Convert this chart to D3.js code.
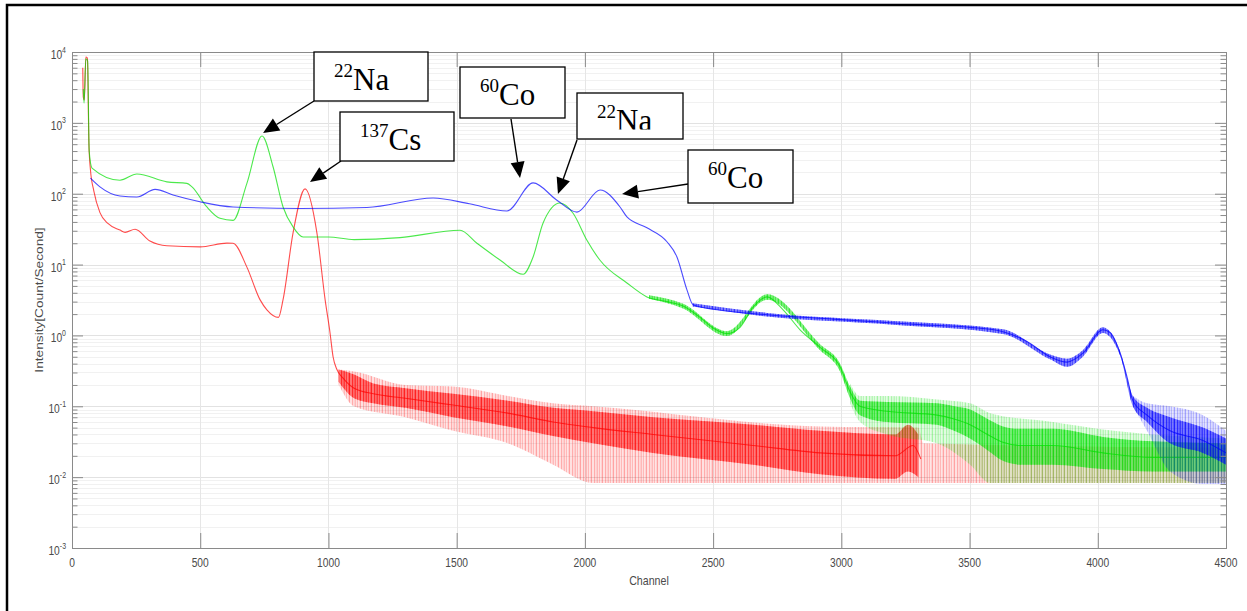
<!DOCTYPE html>
<html>
<head>
<meta charset="utf-8">
<script src="https://cdn.jsdelivr.net/npm/d3@7"></script>
<style>
body { margin: 0; background: #fff; }
svg { display: block; }
</style>
</head>
<body>
<div id="chart"></div>
<script>
(function() {
    'use strict';

    // spectra: [channel, counts per second]
    var redLine = [[42, 6000], [44, 2300], [48, 2100], [54, 8500], [60, 8200], [66, 500], [72, 216],
        [85, 110], [109, 54], [140, 38], [187, 30.7], [207, 28.5], [246, 31.5], [304, 21.5], [370, 18.4],
        [500, 17.8], [604, 20.1], [628, 20], [682, 9.2], [733, 3.2], [760, 2.3], [805, 1.8], [823, 3.2],
        [862, 28], [909, 117], [955, 28], [987, 3.2], [1006, 1.1], [1018, 0.5], [1033, 0.33], [1057, 0.25],
        [1100, 0.18], [1175, 0.15], [1300, 0.13], [1486, 0.104], [1700, 0.08], [1876, 0.06], [2032, 0.05],
        [2266, 0.04], [2656, 0.028], [2917, 0.022], [3210, 0.02], [3280, 0.028], [3310, 0.018]];
    var greenLine = [[44, 3000], [47, 1900], [54, 8000], [61, 7500], [67, 400], [78, 230], [187, 155],
        [253, 190], [370, 147], [448, 140], [468, 125], [526, 65], [577, 45], [628, 42], [682, 140],
        [741, 653], [784, 240], [823, 65], [862, 34], [901, 24.5], [1000, 24.5], [1100, 22.5], [1279, 24],
        [1513, 30.5], [1579, 20], [1669, 11.6], [1759, 7.3], [1798, 12.8], [1837, 38.7], [1903, 74],
        [1954, 53], [2008, 22], [2059, 11.5], [2164, 5.5], [2242, 3.5], [2320, 3.0], [2383, 2.6],
        [2449, 1.8], [2500, 1.27], [2554, 1.06], [2605, 1.3], [2656, 2.5], [2710, 3.5], [2773, 2.3],
        [2839, 1.2], [2917, 0.68], [2995, 0.36], [3034, 0.16], [3073, 0.1], [3178, 0.085], [3373, 0.075],
        [3440, 0.066], [3502, 0.055], [3570, 0.04], [3630, 0.031], [3700, 0.028], [3825, 0.028],
        [4020, 0.022], [4215, 0.019], [4500, 0.019]];
    var blueLine = [[72, 166], [109, 125], [187, 93], [253, 90], [324, 115], [394, 96], [499, 77],
        [628, 65], [889, 62], [1150, 64], [1408, 87], [1550, 72], [1696, 57], [1798, 142], [1891, 81],
        [1969, 55], [2059, 113], [2137, 65], [2164, 47], [2242, 33], [2320, 21], [2359, 12.8], [2398, 4.4],
        [2422, 2.7], [2515, 2.3], [2710, 1.96], [2969, 1.7], [3203, 1.5], [3307, 1.42], [3502, 1.3],
        [3630, 1.13], [3724, 0.82], [3814, 0.5], [3880, 0.42], [3942, 0.56], [4020, 1.2], [4048, 1.1],
        [4087, 0.56], [4114, 0.26], [4137, 0.12], [4192, 0.075], [4282, 0.045], [4410, 0.033], [4500, 0.022]];

    // scatter of the noisy parts: [channel, low, high]
    // dense = where most channels fall, spread = the outer spikes
    var redDense = [[1040, 0.22, 0.33], [1100, 0.13, 0.28], [1175, 0.11, 0.21], [1300, 0.095, 0.18],
        [1486, 0.07, 0.15], [1700, 0.052, 0.12], [1876, 0.038, 0.095], [2032, 0.03, 0.085],
        [2266, 0.022, 0.07], [2656, 0.015, 0.055], [2917, 0.011, 0.045], [3210, 0.0095, 0.04],
        [3260, 0.012, 0.055], [3300, 0.01, 0.04]];
    var redSpread = [[1040, 0.2, 0.33], [1100, 0.1, 0.31], [1300, 0.07, 0.2], [1486, 0.045, 0.19],
        [1700, 0.03, 0.14], [1876, 0.015, 0.11], [2032, 0.0083, 0.1], [2917, 0.0083, 0.052],
        [3300, 0.0083, 0.05], [3320, 0.0083, 0.03], [4500, 0.0083, 0.026]];
    var greenDense = [[2250, 3.3, 3.7], [2383, 2.4, 2.8], [2554, 0.98, 1.15], [2710, 3.2, 3.8],
        [2917, 0.62, 0.75], [2995, 0.31, 0.4], [3034, 0.13, 0.19], [3073, 0.075, 0.12], [3178, 0.06, 0.115],
        [3373, 0.055, 0.11], [3440, 0.045, 0.1], [3502, 0.035, 0.09], [3570, 0.024, 0.066],
        [3630, 0.017, 0.052], [3700, 0.015, 0.048], [3825, 0.015, 0.048], [4020, 0.013, 0.037],
        [4215, 0.012, 0.032], [4500, 0.012, 0.03]];
    var greenSpread = [[3034, 0.11, 0.21], [3073, 0.06, 0.14], [3178, 0.04, 0.14], [3373, 0.03, 0.125],
        [3502, 0.015, 0.11], [3580, 0.0083, 0.08], [3825, 0.0083, 0.06], [4020, 0.0083, 0.047],
        [4500, 0.0083, 0.035]];
    var blueDense = [[2420, 2.55, 2.85], [2710, 1.85, 2.08], [3203, 1.42, 1.6], [3630, 1.05, 1.22],
        [3814, 0.46, 0.54], [3880, 0.36, 0.47], [3942, 0.5, 0.62], [4020, 1.08, 1.3], [4087, 0.52, 0.6],
        [4137, 0.1, 0.14], [4192, 0.06, 0.095], [4282, 0.03, 0.07], [4410, 0.022, 0.05], [4500, 0.015, 0.035]];
    var blueSpread = [[4137, 0.1, 0.14], [4192, 0.045, 0.11], [4282, 0.012, 0.1], [4410, 0.008, 0.075],
        [4500, 0.008, 0.045]];

    var xTicks = [0, 500, 1000, 1500, 2000, 2500, 3000, 3500, 4000, 4500];
    var yExps = [-3, -2, -1, 0, 1, 2, 3, 4];

    // peak labels: mass number, element, arrow tip in data units
    var notes = [
        { mass: '22',  el: 'Na', ch: 745,  v: 719 },
        { mass: '137', el: 'Cs', ch: 928,  v: 146 },
        { mass: '60',  el: 'Co', ch: 1747, v: 167 },
        { mass: '22',  el: 'Na', ch: 1895, v: 99 },
        { mass: '60',  el: 'Co', ch: 2145, v: 99 }
    ];
    // where the boxes sit on the page and where each arrow leaves its box
    var noteBoxes = [
        { x: 314, y: 52,  w: 114, h: 49, ax: 314, ay: 101 },
        { x: 340, y: 112, w: 114, h: 49, ax: 341, ay: 161 },
        { x: 460, y: 67,  w: 105, h: 51, ax: 511, ay: 119 },
        { x: 577, y: 93,  w: 106, h: 46, ax: 577, ay: 140, clip: 129.5 },
        { x: 688, y: 150, w: 105, h: 53, ax: 688, ay: 184 }
    ];

    var width = 1247, height = 611;
    var left = 72, right = 1226, top = 52, bottom = 548;
    var squeeze = 'scale(0.82,1)';

    var svg = d3.select('#chart')
      .append('svg')
        .attr('width', width)
        .attr('height', height);

    var x = d3.scaleLinear().domain([0, 4500]).range([left, right]);
    var y = d3.scaleLog().domain([1e-3, 1e4]).range([bottom, top]);

    var minors = [];
    for (var k = -3; k < 4; k++) {
        for (var m = 2; m < 10; m++) minors.push(m * Math.pow(10, k));
    }
    var majors = yExps.map(function(e) { return Math.pow(10, e); });

    var defs = svg.append('defs');
    defs.append('clipPath').attr('id', 'plot-clip')
      .append('rect')
        .attr('x', left).attr('y', top)
        .attr('width', right - left).attr('height', bottom - top);

    // uneven vertical hatch that stands in for the channel-to-channel scatter
    var stripes = [[0, 0.8, 0.9], [1.5, 0.6, 0.5], [2.6, 1.1, 0.85], [4.3, 0.5, 0.4], [5.2, 0.9, 0.75],
                   [6.9, 0.7, 0.55], [8.1, 1, 0.9], [9.8, 0.6, 0.45]];
    function texture(id, colour) {
        var p = defs.append('pattern')
            .attr('id', id)
            .attr('patternUnits', 'userSpaceOnUse')
            .attr('width', 11).attr('height', 8);
        stripes.forEach(function(s) {
            p.append('rect')
                .attr('x', s[0]).attr('y', 0)
                .attr('width', s[1]).attr('height', 8)
                .attr('fill', colour).attr('fill-opacity', s[2]);
        });
    }
    texture('tex-red', '#ff0000');
    texture('tex-green', '#00e000');
    texture('tex-blue', '#0000ff');

    // grid
    var grid = svg.append('g');
    grid.selectAll('.ym').data(minors).enter().append('line')
        .attr('x1', left).attr('x2', right)
        .attr('y1', function(d) { return Math.round(y(d)) + 0.5; })
        .attr('y2', function(d) { return Math.round(y(d)) + 0.5; })
        .attr('stroke', '#f1f1f1');
    grid.selectAll('.yM').data(majors).enter().append('line')
        .attr('x1', left).attr('x2', right)
        .attr('y1', function(d) { return Math.round(y(d)) + 0.5; })
        .attr('y2', function(d) { return Math.round(y(d)) + 0.5; })
        .attr('stroke', '#e2e2e2');
    grid.selectAll('.xM').data(xTicks).enter().append('line')
        .attr('y1', top).attr('y2', bottom)
        .attr('x1', function(d) { return Math.round(x(d)) + 0.5; })
        .attr('x2', function(d) { return Math.round(x(d)) + 0.5; })
        .attr('stroke', '#e6e6e6');

    // spectra
    var plot = svg.append('g').attr('clip-path', 'url(#plot-clip)');
    var line = d3.line()
        .x(function(d) { return x(d[0]); })
        .y(function(d) { return y(d[1]); })
        .curve(d3.curveMonotoneX);
    var area = d3.area()
        .x(function(d) { return x(d[0]); })
        .y0(function(d) { return y(d[1]); })
        .y1(function(d) { return y(d[2]); })
        .curve(d3.curveMonotoneX);

    function band(data, colour, tex, base, hatch) {
        plot.append('path').attr('d', area(data))
            .attr('fill', colour).attr('fill-opacity', base);
        plot.append('path').attr('d', area(data))
            .attr('fill', 'url(#' + tex + ')').attr('opacity', hatch);
    }
    function spectrum(pts, dense, spread, colour, tex) {
        band(spread, colour, tex, 0.05, 0.4);
        band(dense, colour, tex, 0.4, 0.8);
        plot.append('path').attr('d', line(pts))
            .attr('fill', 'none')
            .attr('stroke', colour)
            .attr('stroke-opacity', 0.7)
            .attr('stroke-width', 1.1);
    }
    spectrum(redLine, redDense, redSpread, '#ff0000', 'tex-red');
    spectrum(greenLine, greenDense, greenSpread, '#00e000', 'tex-green');
    spectrum(blueLine, blueDense, blueSpread, '#0000ff', 'tex-blue');

    // axes box with inward ticks on all four sides
    var axisColour = '#8a8a8a';
    function styleAxis(g) {
        g.select('.domain').remove();
        g.selectAll('line').attr('stroke', axisColour);
        g.selectAll('text').remove();
    }
    svg.append('g').attr('transform', 'translate(0,' + bottom + ')')
        .call(d3.axisBottom(x).tickValues(xTicks).tickSize(-15).tickFormat('')).call(styleAxis);
    svg.append('g').attr('transform', 'translate(0,' + top + ')')
        .call(d3.axisTop(x).tickValues(xTicks).tickSize(-15).tickFormat('')).call(styleAxis);
    svg.append('g').attr('transform', 'translate(' + left + ',0)')
        .call(d3.axisLeft(y).tickValues(majors).tickSize(-11).tickFormat('')).call(styleAxis);
    svg.append('g').attr('transform', 'translate(' + left + ',0)')
        .call(d3.axisLeft(y).tickValues(minors).tickSize(-5.5).tickFormat('')).call(styleAxis);
    svg.append('g').attr('transform', 'translate(' + right + ',0)')
        .call(d3.axisRight(y).tickValues(majors).tickSize(-11).tickFormat('')).call(styleAxis);
    svg.append('g').attr('transform', 'translate(' + right + ',0)')
        .call(d3.axisRight(y).tickValues(minors).tickSize(-5.5).tickFormat('')).call(styleAxis);
    svg.append('rect')
        .attr('x', left + 0.5).attr('y', top + 0.5)
        .attr('width', right - left).attr('height', bottom - top)
        .attr('fill', 'none').attr('stroke', axisColour);

    // tick labels, squeezed sideways like the original
    var font = '"Liberation Sans", Arial, sans-serif';
    svg.selectAll('.xl').data(xTicks).enter().append('text')
        .attr('transform', function(d) { return 'translate(' + x(d) + ',567) ' + squeeze; })
        .attr('text-anchor', 'middle')
        .attr('font-family', font).attr('font-size', 12.5).attr('fill', '#4a4a4a')
        .text(function(d) { return d; });

    var yl = svg.selectAll('.yl').data(yExps).enter().append('text')
        .attr('transform', function(d) { return 'translate(66,' + (y(Math.pow(10, d)) + 7) + ') ' + squeeze; })
        .attr('text-anchor', 'end')
        .attr('font-family', font).attr('font-size', 12.5).attr('fill', '#4a4a4a');
    yl.append('tspan').text('10');
    yl.append('tspan').attr('font-size', 8.5).attr('dy', -6.5).text(function(d) { return d; });

    svg.append('text')
        .attr('transform', 'translate(649,585) ' + squeeze)
        .attr('text-anchor', 'middle')
        .attr('font-family', font).attr('font-size', 13).attr('fill', '#4a4a4a')
        .text('Channel');
    svg.append('text')
        .attr('transform', 'translate(43,300) ' + squeeze + ' rotate(-90)')
        .attr('text-anchor', 'middle')
        .attr('font-family', font).attr('font-size', 13.7).attr('fill', '#4a4a4a')
        .text('Intensity[Count/Second]');

    // labelled boxes with arrows
    var serif = '"Liberation Serif", "Times New Roman", serif';
    notes.forEach(function(n, i) {
        var b = noteBoxes[i];
        var tx = x(n.ch), ty = y(n.v);
        var dx = tx - b.ax, dy = ty - b.ay;
        var len = Math.sqrt(dx * dx + dy * dy);
        var ux = dx / len, uy = dy / len;
        var headL = 16, headW = 7;
        var bx = tx - ux * headL, by = ty - uy * headL;

        svg.append('line')
            .attr('x1', b.ax).attr('y1', b.ay)
            .attr('x2', bx).attr('y2', by)
            .attr('stroke', '#000').attr('stroke-width', 1.4);
        svg.append('polygon')
            .attr('points', tx + ',' + ty + ' ' +
                            (bx - uy * headW) + ',' + (by + ux * headW) + ' ' +
                            (bx + uy * headW) + ',' + (by - ux * headW))
            .attr('fill', '#000');

        svg.append('rect')
            .attr('x', b.x).attr('y', b.y)
            .attr('width', b.w).attr('height', b.h)
            .attr('fill', '#fff').attr('stroke', '#000').attr('stroke-width', 1.3);

        var t = svg.append('text')
            .attr('x', b.x + 20).attr('y', b.y + 38)
            .attr('font-family', serif).attr('fill', '#000');
        if (b.clip) {
            defs.append('clipPath').attr('id', 'note-clip-' + i)
              .append('rect')
                .attr('x', b.x).attr('y', b.y)
                .attr('width', b.w).attr('height', b.clip - b.y);
            t.attr('clip-path', 'url(#note-clip-' + i + ')');
        }
        t.append('tspan').attr('font-size', 19).attr('dy', -13).text(n.mass);
        t.append('tspan').attr('font-size', 31).attr('dy', 13).text(n.el);
    });

    // page frame
    svg.append('rect')
        .attr('x', 7).attr('y', 5)
        .attr('width', 1300).attr('height', 700)
        .attr('fill', 'none').attr('stroke', '#000').attr('stroke-width', 2.5);
}());
</script>
</body>
</html>
